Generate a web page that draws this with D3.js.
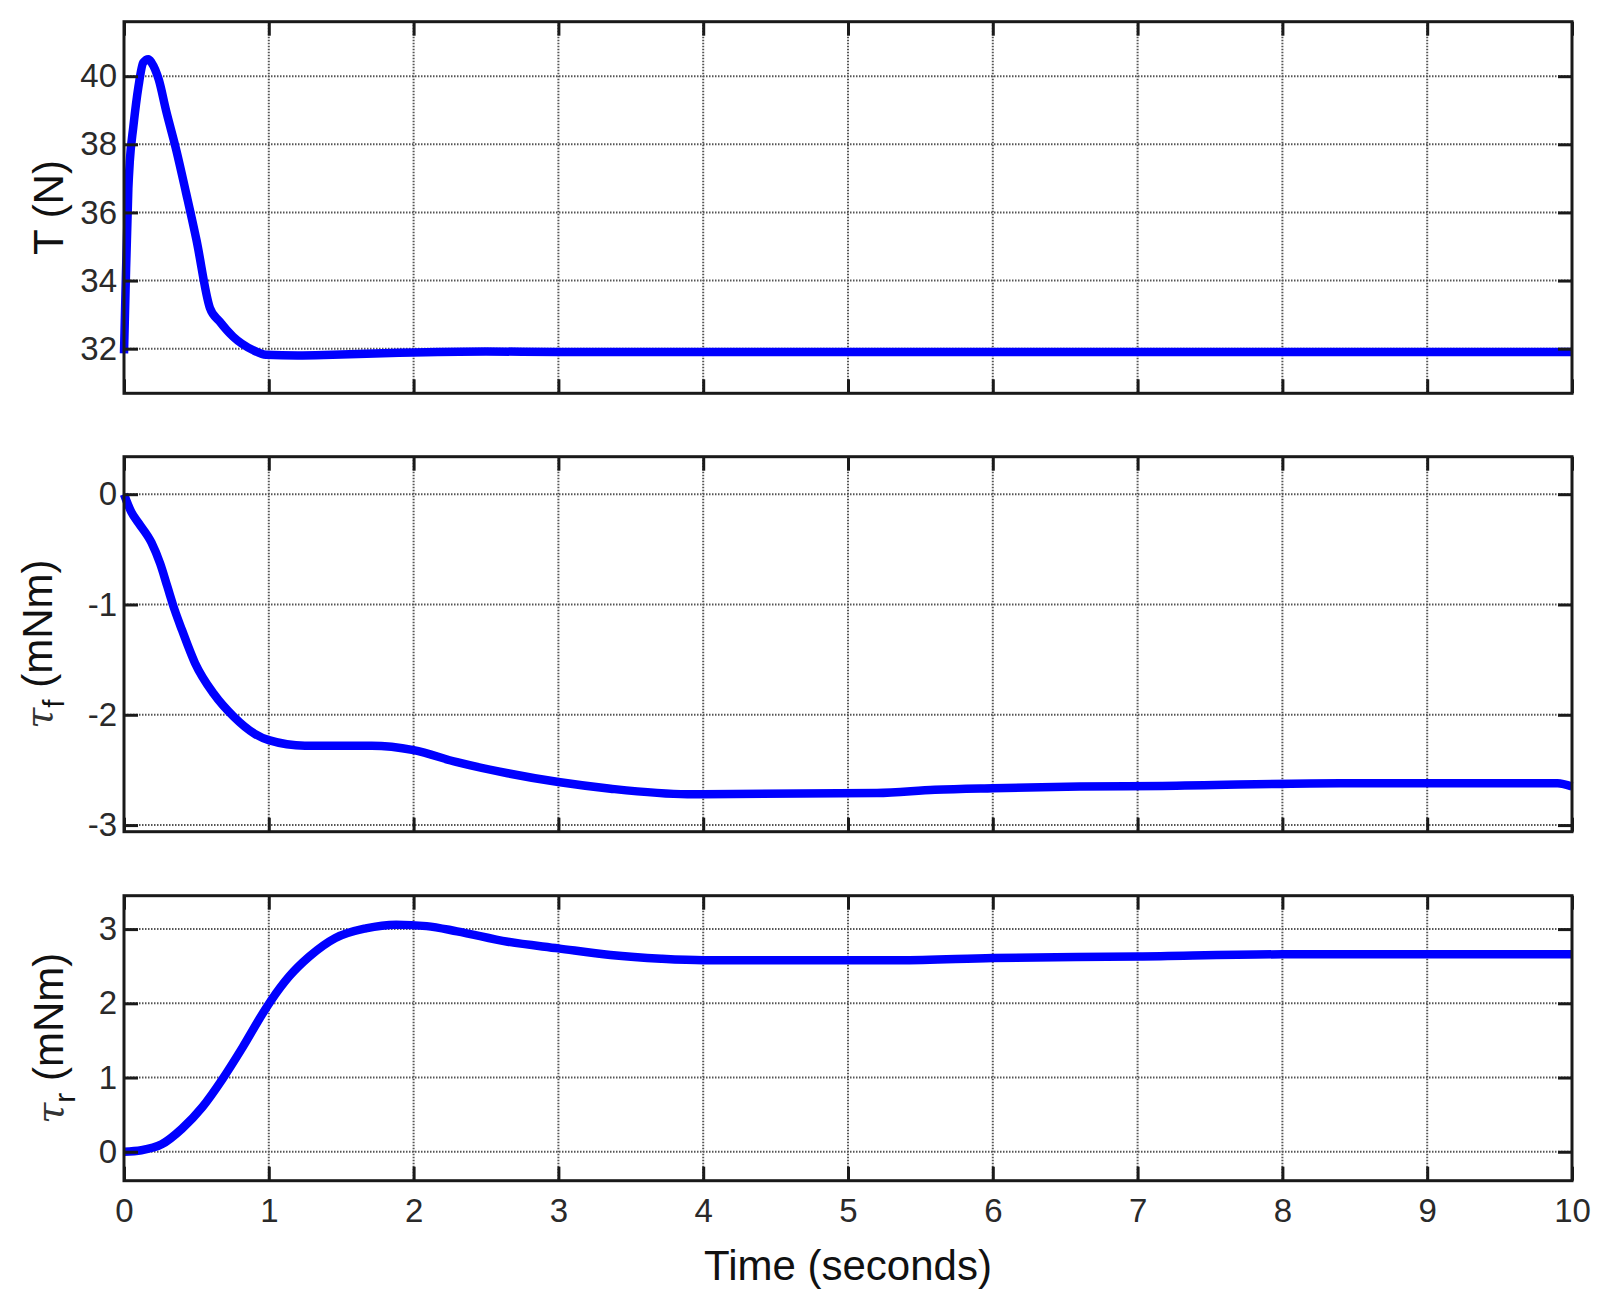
<!DOCTYPE html>
<html>
<head>
<meta charset="utf-8">
<script src="https://cdn.jsdelivr.net/npm/d3@7"></script>
<style>
    body { margin:0; background:#fff; }
    svg { display:block; }
</style>
</head>
<body>
<svg id="svg__container" width="1612" height="1301"></svg>
<script>
// T (N) : thrust
const timeThrust=[0, 0.01, 0.03, 0.04, 0.064, 0.10, 0.133, 0.168, 0.19, 0.24, 0.29, 0.36, 0.43, 0.50, 0.593, 0.66, 0.754, 0.89, 0.98, 1.2, 1.44, 1.9, 2.5, 3, 4, 5, 6, 7, 8, 9, 10];
const thrust=[31.86, 33.6, 36.7, 37.5, 38.5, 39.7, 40.4, 40.5, 40.4, 39.9, 39.0, 37.85, 36.55, 35.2, 33.2, 32.8, 32.35, 31.96, 31.82, 31.8, 31.82, 31.88, 31.92, 31.9, 31.9, 31.9, 31.9, 31.9, 31.9, 31.9, 31.9];

// tau_f (mNm)
const timeTauF=[0, 0.05, 0.1, 0.19, 0.25, 0.30, 0.35, 0.40, 0.49, 0.62, 0.76, 0.90, 1.0, 1.25, 1.71, 2.0, 2.3, 2.65, 3.0, 3.36, 3.89, 4.0, 5.2, 5.6, 6.0, 6.6, 7.17, 8.4, 9.0, 9.9, 10];
const tauF=[0, -0.16, -0.26, -0.44, -0.63, -0.84, -1.05, -1.23, -1.53, -1.81, -2.02, -2.17, -2.23, -2.28, -2.28, -2.32, -2.43, -2.53, -2.61, -2.67, -2.72, -2.72, -2.71, -2.68, -2.665, -2.65, -2.645, -2.62, -2.62, -2.62, -2.65];

// tau_r (mNm)
const timeTauR=[0, 0.12, 0.26, 0.40, 0.54, 0.68, 0.82, 0.96, 1.02, 1.14, 1.28, 1.46, 1.67, 1.88, 2.09, 2.30, 2.65, 3.0, 3.36, 3.71, 4.0, 5.35, 6, 7, 8, 9, 10];
const tauR=[0, 0.02, 0.10, 0.31, 0.60, 0.98, 1.41, 1.87, 2.05, 2.36, 2.63, 2.88, 3.01, 3.06, 3.04, 2.97, 2.83, 2.74, 2.65, 2.60, 2.58, 2.58, 2.61, 2.63, 2.66, 2.66, 2.66];

const timeTicks=[0, 1, 2, 3, 4, 5, 6, 7, 8, 9, 10];
const thrustTicks=[32, 34, 36, 38, 40];
const tauFTicks=[-3, -2, -1, 0];
const tauRTicks=[0, 1, 2, 3];

const svgTag=d3.select("#svg__container");
const plotLeft=124;
const plotRight=1572;
const fontFamily="'Liberation Sans', Arial, sans-serif";
const tickLen=14;
const tickFont=33;

const xScale=d3.scaleLinear().domain([0, 10]).range([plotLeft, plotRight]);
// plain hyphen for negatives, like the original
const plainFormat=d => String(d);

drawPanel({ top:21.7, bottom:393.3, domain:[30.69, 41.6], ticks:thrustTicks,
    times:timeThrust, values:thrust, showXLabels:false, labelX:63, label:"T (N)" });
drawPanel({ top:456.7, bottom:831.7, domain:[-3.06, 0.34], ticks:tauFTicks,
    times:timeTauF, values:tauF, showXLabels:false, labelX:52, label:"τ", sub:"f" });
drawPanel({ top:895.7, bottom:1180.7, domain:[-0.39, 3.45], ticks:tauRTicks,
    times:timeTauR, values:tauR, showXLabels:true, labelX:63, label:"τ", sub:"r" });

svgTag.append("text")
    .attr("x", (plotLeft+plotRight)/2).attr("y", 1280)
    .attr("text-anchor", "middle")
    .attr("font-family", fontFamily).attr("font-size", 42)
    .attr("fill", "#111")
    .text("Time (seconds)");

function drawPanel(opt) {
    const yScale=d3.scaleLinear().domain(opt.domain).range([opt.bottom, opt.top]);
    const g=svgTag.append("g");

    // grid (dotted)
    const grid=g.append("g").attr("stroke", "#555").attr("stroke-width", 2)
        .attr("stroke-dasharray", "1.5,1.5");
    timeTicks.filter(t => t>0 && t<10).forEach(t => {
        grid.append("line")
            .attr("x1", xScale(t)).attr("x2", xScale(t))
            .attr("y1", opt.top).attr("y2", opt.bottom);
    });
    opt.ticks.forEach(v => {
        grid.append("line")
            .attr("x1", plotLeft).attr("x2", plotRight)
            .attr("y1", yScale(v)).attr("y2", yScale(v));
    });

    // curve
    const points=opt.times.map((t, i) => [t, opt.values[i]]);
    g.append("path")
        .datum(points)
        .attr("fill", "none")
        .attr("stroke", "#0000ff")
        .attr("stroke-width", 8.5)
        .attr("stroke-linejoin", "round")
        .attr("d", d3.line().x(d => xScale(d[0])).y(d => yScale(d[1])).curve(d3.curveMonotoneX));

    // axes: inward ticks on all four sides
    const axisLeft=d3.axisLeft(yScale).tickValues(opt.ticks).tickSize(-tickLen).tickPadding(7)
        .tickFormat(plainFormat);
    const axisRight=d3.axisRight(yScale).tickValues(opt.ticks).tickSize(-tickLen).tickFormat("");
    const axisBottom=d3.axisBottom(xScale).tickValues(timeTicks).tickSize(-tickLen).tickPadding(18)
        .tickFormat(opt.showXLabels ? plainFormat : "");
    const axisTop=d3.axisTop(xScale).tickValues(timeTicks).tickSize(-tickLen).tickFormat("");

    const styleAxis=sel => {
        sel.selectAll(".domain").remove();
        sel.selectAll(".tick line").attr("stroke", "#1a1a1a").attr("stroke-width", 3);
        sel.selectAll(".tick text")
            .attr("font-family", fontFamily).attr("font-size", tickFont).attr("fill", "#2a2a2a");
    };
    g.append("g").attr("transform", `translate(${plotLeft},0)`).call(axisLeft).call(styleAxis);
    g.append("g").attr("transform", `translate(${plotRight},0)`).call(axisRight).call(styleAxis);
    g.append("g").attr("transform", `translate(0,${opt.bottom})`).call(axisBottom).call(styleAxis);
    g.append("g").attr("transform", `translate(0,${opt.top})`).call(axisTop).call(styleAxis);

    g.append("rect")
        .attr("x", plotLeft).attr("y", opt.top)
        .attr("width", plotRight-plotLeft).attr("height", opt.bottom-opt.top)
        .attr("fill", "none").attr("stroke", "#1a1a1a").attr("stroke-width", 3);

    // y label
    const label=g.append("text")
        .attr("transform", `translate(${opt.labelX},${(opt.top+opt.bottom)/2}) rotate(-90)`)
        .attr("text-anchor", "middle")
        .attr("font-family", fontFamily).attr("font-size", 42)
        .attr("fill", "#111");
    if (opt.sub) {
        label.append("tspan")
            .attr("font-family", "'DejaVu Serif', serif").attr("font-style", "italic")
            .attr("font-size", 38).attr("fill", "#333")
            .text(opt.label);
        label.append("tspan").attr("dy", 12).attr("font-size", 30).text(opt.sub);
        label.append("tspan").attr("dy", -12).text(" (mNm)");
    } else {
        label.text(opt.label);
    }
}
</script>
</body>
</html>
